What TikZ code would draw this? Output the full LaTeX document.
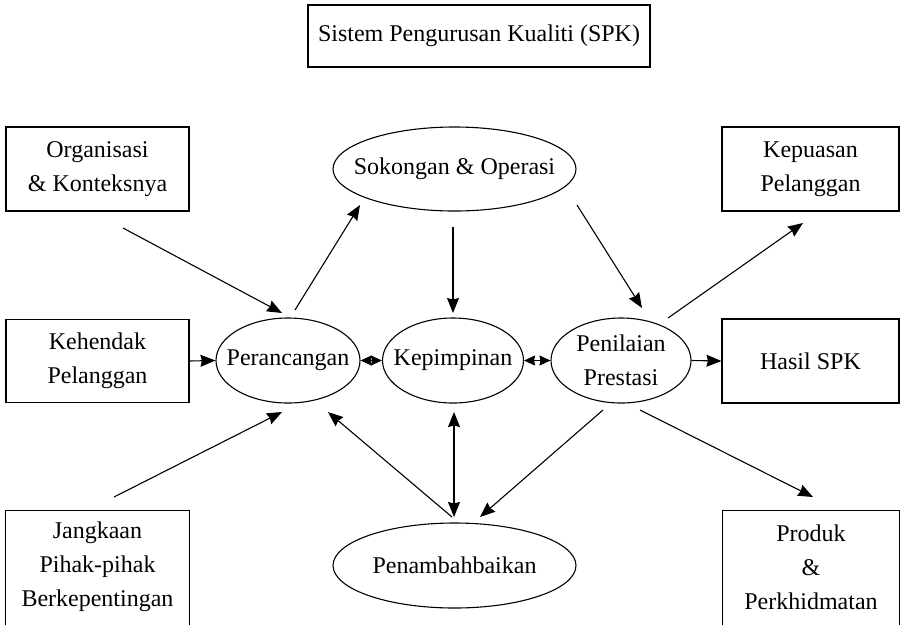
\documentclass[tikz,border=0pt]{standalone}
\usepackage{fontspec}
\setmainfont{Liberation Serif}
\usetikzlibrary{shapes.geometric,arrows.meta,calc}
\begin{document}
\begin{tikzpicture}[x=1pt,y=-1pt,
  every node/.style={font=\fontsize{24}{34}\selectfont, text=black},
  box/.style={draw, line width=1.1pt, rectangle, align=center, inner sep=0pt},
  openbox/.style={rectangle, align=center, inner sep=0pt},
  ell/.style={draw, line width=1.1pt, ellipse, inner sep=0pt},
  lbl/.style={align=center, inner sep=0pt},
  arr/.style={line width=1.1pt, -{Stealth[length=15pt,width=12pt,inset=1.5pt]}},
  darr/.style={line width=1.1pt, {Stealth[length=15pt,width=12pt,inset=1.5pt]}-{Stealth[length=15pt,width=12pt,inset=1.5pt]}},
  sdarr/.style={line width=1.1pt, {Stealth[length=11pt,width=10pt,inset=1pt]}-{Stealth[length=11pt,width=10pt,inset=1pt]}}]
\useasboundingbox (0,0) rectangle (901,625);

% boxes
\node[box, minimum width=342pt, minimum height=62pt] (title) at (479,36) {Sistem Pengurusan Kualiti (SPK)};
\node[box, minimum width=183pt, minimum height=84pt] (org) at (97.5,169) {Organisasi\\\& Konteksnya};
\node[box, minimum width=183pt, minimum height=83pt] (keh) at (97.5,361) {Kehendak\\Pelanggan};
\node[openbox, minimum width=183pt, minimum height=112pt] (jan) at (97.5,567) {Jangkaan\\Pihak-pihak\\Berkepentingan};
\node[box, minimum width=177pt, minimum height=84pt] (kep) at (810.5,169) {Kepuasan\\Pelanggan};
\node[box, minimum width=177pt, minimum height=84pt] (has) at (810.5,361) {Hasil SPK};
\node[openbox, minimum width=176pt, minimum height=112pt] (pro) at (811,567) {Produk\\\&\\Perkhidmatan};
\draw[line width=1.1pt] ($(jan.south west)+(0,2)$) -- (jan.north west) -- (jan.north east) -- ($(jan.south east)+(0,2)$);
\draw[line width=1.1pt] ($(pro.south west)+(0,2)$) -- (pro.north west) -- (pro.north east) -- ($(pro.south east)+(0,2)$);

% ellipses
\node[ell, minimum width=243pt, minimum height=84pt, label={[lbl]center:Sokongan \& Operasi}] (sok) at (454.5,169) {};
\node[ell, minimum width=144pt, minimum height=85pt, label={[lbl]center:Perancangan}] (per) at (288,360.5) {};
\node[ell, minimum width=141pt, minimum height=85pt, label={[lbl]center:Kepimpinan}] (kpm) at (453,360.5) {};
\node[ell, minimum width=140pt, minimum height=85pt, label={[lbl]center:Penilaian\\Prestasi}] (pen) at (621,360.5) {};
\node[ell, minimum width=243pt, minimum height=85pt, label={[lbl]center:Penambahbaikan}] (pnb) at (454.5,565.5) {};

% connectors
\draw[arr] ($(org)+(25.5,59)$) -- ($(per)+(-6,-47.5)$);
\draw[arr] ($(per)+(7,-50.5)$) -- ($(sok)+(-94.5,36)$);
\draw[arr] ($(sok)+(-1.5,58)$) -- ($(kpm)+(0,-47.5)$);
\draw[arr] ($(sok)+(122.5,36)$) -- ($(pen)+(21,-52.5)$);
\draw[arr] ($(pen)+(47,-42.5)$) -- ($(kep)+(-7.5,54)$);
\draw[arr] (pen.east) -- (has.west);
\draw[arr] (keh.east) -- (per.west);
\draw[arr] ($(jan)+(16.5,-70)$) -- ($(per)+(-6,51.5)$);
\draw[arr] ($(pnb)+(-2.5,-48.5)$) -- ($(per)+(40,51.5)$);
\draw[darr] ($(kpm)+(1,51.5)$) -- ($(pnb)+(-0.5,-48.5)$);
\draw[arr] ($(pen)+(-18,49.5)$) -- ($(pnb)+(25.5,-48.5)$);
\draw[arr] ($(pen)+(19,49.5)$) -- ($(pro)+(2,-70)$);
\draw[sdarr] (per.east) -- (kpm.west);
\draw[sdarr] (kpm.east) -- (pen.west);
\end{tikzpicture}
\end{document}
